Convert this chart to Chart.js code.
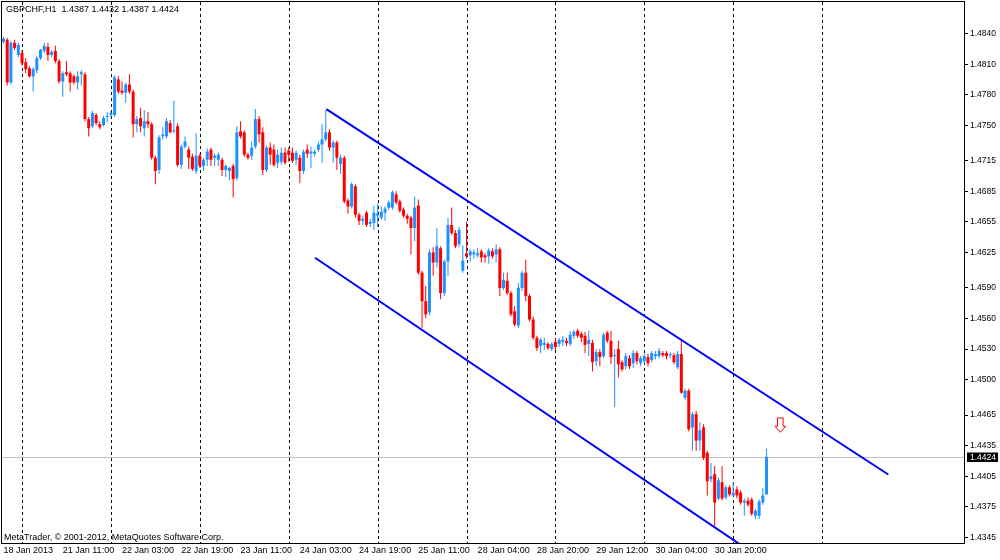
<!DOCTYPE html>
<html>
<head>
<meta charset="utf-8">
<title>GBPCHF,H1</title>
<script src="https://cdn.jsdelivr.net/npm/chart.js@4.4.0/dist/chart.umd.min.js"></script>
<style>
  html, body { margin: 0; padding: 0; background: #fff; }
  #wrap { position: relative; width: 1000px; height: 560px; }
</style>
</head>
<body>
<div id="wrap"><canvas id="chart"></canvas></div>
<script>
const symbolName = 'GBPCHF,H1';
const copyrightText = 'MetaTrader, \u00A9 2001-2012, MetaQuotes Software Corp.';

// hourly bars, index 0 = 18 Jan 19:00
const opens = [
  1.4832, 1.4834, 1.4792, 1.4831, 1.4819, 1.4821, 1.4812, 1.4806, 1.4798, 1.4804,
  1.4816, 1.4823, 1.4827, 1.4819, 1.4823, 1.4813, 1.4793, 1.4802, 1.4801, 1.4798,
  1.4792, 1.4800, 1.4800, 1.4756, 1.4749, 1.4760, 1.4751, 1.4750, 1.4758, 1.4760,
  1.4760, 1.4795, 1.4784, 1.4782, 1.4790, 1.4783, 1.4751, 1.4757, 1.4747, 1.4754,
  1.4751, 1.4718, 1.4706, 1.4739, 1.4739, 1.4752, 1.4744, 1.4749, 1.4711, 1.4729,
  1.4726, 1.4719, 1.4705, 1.4720, 1.4710, 1.4716, 1.4726, 1.4718, 1.4716, 1.4716,
  1.4706, 1.4705, 1.4710, 1.4698, 1.4744, 1.4743, 1.4721, 1.4720, 1.4729, 1.4756,
  1.4743, 1.4706, 1.4728, 1.4726, 1.4713, 1.4714, 1.4723, 1.4725, 1.4723, 1.4716,
  1.4718, 1.4705, 1.4726, 1.4722, 1.4722, 1.4726, 1.4731, 1.4736, 1.4743, 1.4728,
  1.4733, 1.4712, 1.4718, 1.4676, 1.4670, 1.4690, 1.4662, 1.4656, 1.4664, 1.4653,
  1.4654, 1.4661, 1.4659, 1.4664, 1.4669, 1.4669, 1.4682, 1.4675, 1.4667, 1.4661,
  1.4659, 1.4649, 1.4671, 1.4605, 1.4577, 1.4566, 1.4625, 1.4615, 1.4629, 1.4585,
  1.4616, 1.4652, 1.4644, 1.4633, 1.4607, 1.4624, 1.4622, 1.4623, 1.4622, 1.4626,
  1.4622, 1.4621, 1.4626, 1.4623, 1.4628, 1.4590, 1.4597, 1.4585, 1.4567, 1.4553,
  1.4590, 1.4605, 1.4582, 1.4559, 1.4541, 1.4533, 1.4534, 1.4535, 1.4530, 1.4537,
  1.4535, 1.4537, 1.4538, 1.4535, 1.4543, 1.4548, 1.4545, 1.4543, 1.4535, 1.4536,
  1.4518, 1.4527, 1.4523, 1.4546, 1.4538, 1.4523, 1.4530, 1.4517, 1.4513, 1.4521,
  1.4516, 1.4526, 1.4516, 1.4518, 1.4522, 1.4519, 1.4523, 1.4523, 1.4526, 1.4526,
  1.4524, 1.4524, 1.4512, 1.4525, 1.4482, 1.4489, 1.4453, 1.4466, 1.4440, 1.4453,
  1.4428, 1.4402, 1.4407, 1.4383, 1.4399, 1.4384, 1.4394, 1.4386, 1.4392, 1.4389,
  1.4379, 1.4381, 1.4382, 1.4366, 1.4366, 1.4379, 1.4387
];
const highs = [
  1.4837, 1.4836, 1.4833, 1.4834, 1.4831, 1.4824, 1.4816, 1.4808, 1.4807, 1.4818,
  1.4825, 1.4831, 1.4831, 1.4824, 1.4828, 1.4815, 1.4803, 1.4813, 1.4803, 1.4800,
  1.4803, 1.4804, 1.4802, 1.4758, 1.4764, 1.4762, 1.4754, 1.4759, 1.4763, 1.4764,
  1.4799, 1.4798, 1.4793, 1.4792, 1.4800, 1.4785, 1.4759, 1.4767, 1.4765, 1.4763,
  1.4753, 1.4720, 1.4740, 1.4748, 1.4757, 1.4755, 1.4774, 1.4752, 1.4731, 1.4739,
  1.4729, 1.4722, 1.4742, 1.4722, 1.4718, 1.4727, 1.4728, 1.4722, 1.4723, 1.4718,
  1.4711, 1.4709, 1.4712, 1.4749, 1.4754, 1.4745, 1.4723, 1.4734, 1.4766, 1.4759,
  1.4748, 1.4730, 1.4733, 1.4731, 1.4726, 1.4728, 1.4728, 1.4728, 1.4728, 1.4725,
  1.4721, 1.4726, 1.4731, 1.4729, 1.4726, 1.4734, 1.4751, 1.4765, 1.4746, 1.4735,
  1.4735, 1.4721, 1.4720, 1.4678, 1.4694, 1.4692, 1.4664, 1.4661, 1.4666, 1.4658,
  1.4671, 1.4673, 1.4670, 1.4670, 1.4676, 1.4686, 1.4685, 1.4677, 1.4669, 1.4663,
  1.4661, 1.4680, 1.4677, 1.4607, 1.4592, 1.4628, 1.4630, 1.4649, 1.4631, 1.4618,
  1.4659, 1.4669, 1.4647, 1.4650, 1.4632, 1.4655, 1.4628, 1.4628, 1.4629, 1.4628,
  1.4624, 1.4629, 1.4629, 1.4633, 1.4630, 1.4605, 1.4605, 1.4587, 1.4572, 1.4595,
  1.4607, 1.4618, 1.4584, 1.4562, 1.4543, 1.4541, 1.4541, 1.4537, 1.4537, 1.4541,
  1.4541, 1.4543, 1.4541, 1.4548, 1.4549, 1.4550, 1.4547, 1.4547, 1.4548, 1.4539,
  1.4530, 1.4530, 1.4546, 1.4548, 1.4548, 1.4530, 1.4538, 1.4519, 1.4526, 1.4524,
  1.4529, 1.4528, 1.4523, 1.4525, 1.4525, 1.4528, 1.4528, 1.4531, 1.4528, 1.4528,
  1.4527, 1.4526, 1.4528, 1.4540, 1.4491, 1.4491, 1.4468, 1.4469, 1.4458, 1.4456,
  1.4430, 1.4418, 1.4415, 1.4404, 1.4415, 1.4396, 1.4396, 1.4399, 1.4395, 1.4391,
  1.4383, 1.4384, 1.4384, 1.4373, 1.4382, 1.4393, 1.4432
];
const lows = [
  1.4830, 1.4789, 1.4790, 1.4824, 1.4817, 1.4809, 1.4801, 1.4797, 1.4783, 1.4801,
  1.4814, 1.4821, 1.4813, 1.4817, 1.4811, 1.4791, 1.4778, 1.4798, 1.4783, 1.4790,
  1.4785, 1.4789, 1.4754, 1.4739, 1.4747, 1.4750, 1.4746, 1.4749, 1.4753, 1.4757,
  1.4758, 1.4781, 1.4780, 1.4772, 1.4781, 1.4738, 1.4743, 1.4743, 1.4739, 1.4747,
  1.4716, 1.4692, 1.4702, 1.4736, 1.4737, 1.4742, 1.4742, 1.4709, 1.4707, 1.4727,
  1.4707, 1.4705, 1.4702, 1.4708, 1.4705, 1.4710, 1.4710, 1.4710, 1.4710, 1.4700,
  1.4699, 1.4696, 1.4679, 1.4696, 1.4737, 1.4719, 1.4716, 1.4716, 1.4727, 1.4733,
  1.4701, 1.4704, 1.4711, 1.4709, 1.4708, 1.4711, 1.4711, 1.4714, 1.4713, 1.4711,
  1.4693, 1.4702, 1.4718, 1.4708, 1.4719, 1.4724, 1.4713, 1.4734, 1.4725, 1.4713,
  1.4706, 1.4702, 1.4673, 1.4663, 1.4668, 1.4659, 1.4652, 1.4652, 1.4650, 1.4650,
  1.4647, 1.4650, 1.4657, 1.4656, 1.4667, 1.4667, 1.4672, 1.4664, 1.4659, 1.4653,
  1.4623, 1.4636, 1.4603, 1.4551, 1.4560, 1.4563, 1.4602, 1.4610, 1.4579, 1.4582,
  1.4602, 1.4642, 1.4629, 1.4630, 1.4605, 1.4619, 1.4616, 1.4619, 1.4620, 1.4615,
  1.4615, 1.4614, 1.4619, 1.4615, 1.4582, 1.4588, 1.4583, 1.4562, 1.4552, 1.4551,
  1.4587, 1.4577, 1.4557, 1.4539, 1.4528, 1.4526, 1.4529, 1.4529, 1.4528, 1.4528,
  1.4532, 1.4533, 1.4533, 1.4533, 1.4540, 1.4541, 1.4537, 1.4526, 1.4523, 1.4508,
  1.4513, 1.4513, 1.4521, 1.4536, 1.4515, 1.4473, 1.4502, 1.4508, 1.4510, 1.4510,
  1.4511, 1.4515, 1.4513, 1.4515, 1.4513, 1.4517, 1.4520, 1.4521, 1.4522, 1.4520,
  1.4521, 1.4515, 1.4510, 1.4486, 1.4480, 1.4449, 1.4430, 1.4430, 1.4430, 1.4421,
  1.4386, 1.4399, 1.4356, 1.4381, 1.4381, 1.4382, 1.4385, 1.4384, 1.4383, 1.4377,
  1.4366, 1.4375, 1.4366, 1.4363, 1.4363, 1.4377, 1.4387
];
const closes = [
  1.4835, 1.4792, 1.4831, 1.4826, 1.4829, 1.4811, 1.4805, 1.4798, 1.4805, 1.4816,
  1.4824, 1.4828, 1.4819, 1.4822, 1.4813, 1.4793, 1.4801, 1.4800, 1.4792, 1.4792,
  1.4798, 1.4802, 1.4756, 1.4747, 1.4762, 1.4752, 1.4748, 1.4757, 1.4759, 1.4762,
  1.4797, 1.4783, 1.4782, 1.4790, 1.4783, 1.4751, 1.4756, 1.4749, 1.4754, 1.4751,
  1.4718, 1.4705, 1.4738, 1.4741, 1.4754, 1.4743, 1.4745, 1.4711, 1.4729, 1.4734,
  1.4718, 1.4707, 1.4720, 1.4710, 1.4716, 1.4724, 1.4716, 1.4720, 1.4721, 1.4706,
  1.4710, 1.4708, 1.4697, 1.4743, 1.4739, 1.4721, 1.4718, 1.4728, 1.4756, 1.4741,
  1.4706, 1.4728, 1.4721, 1.4711, 1.4721, 1.4723, 1.4713, 1.4721, 1.4715, 1.4723,
  1.4705, 1.4724, 1.4722, 1.4724, 1.4724, 1.4731, 1.4736, 1.4743, 1.4728, 1.4733,
  1.4718, 1.4718, 1.4675, 1.4670, 1.4692, 1.4662, 1.4656, 1.4658, 1.4652, 1.4655,
  1.4664, 1.4663, 1.4665, 1.4668, 1.4674, 1.4684, 1.4674, 1.4666, 1.4661, 1.4658,
  1.4649, 1.4669, 1.4605, 1.4577, 1.4564, 1.4625, 1.4615, 1.4631, 1.4585, 1.4616,
  1.4652, 1.4644, 1.4631, 1.4647, 1.4617, 1.4621, 1.4626, 1.4625, 1.4624, 1.4620,
  1.4620, 1.4627, 1.4621, 1.4628, 1.4590, 1.4598, 1.4585, 1.4564, 1.4554, 1.4590,
  1.4605, 1.4582, 1.4559, 1.4541, 1.4531, 1.4539, 1.4536, 1.4531, 1.4535, 1.4532,
  1.4539, 1.4539, 1.4536, 1.4544, 1.4547, 1.4543, 1.4541, 1.4534, 1.4539, 1.4517,
  1.4527, 1.4522, 1.4544, 1.4538, 1.4522, 1.4524, 1.4515, 1.4510, 1.4523, 1.4513,
  1.4526, 1.4518, 1.4521, 1.4523, 1.4516, 1.4526, 1.4525, 1.4528, 1.4524, 1.4523,
  1.4525, 1.4517, 1.4525, 1.4487, 1.4489, 1.4451, 1.4466, 1.4440, 1.4450, 1.4423,
  1.4400, 1.4405, 1.4379, 1.4401, 1.4383, 1.4394, 1.4387, 1.4389, 1.4386, 1.4379,
  1.4381, 1.4377, 1.4368, 1.4371, 1.4380, 1.4386, 1.4424
];

const timeTickIndex = [0, 16, 32, 48, 64, 80, 96, 112, 128, 144, 160, 176, 192];
const timeTickLabels = [
  '18 Jan 2013', '21 Jan 11:00', '22 Jan 03:00', '22 Jan 19:00', '23 Jan 11:00',
  '24 Jan 03:00', '24 Jan 19:00', '25 Jan 11:00', '28 Jan 04:00', '28 Jan 20:00',
  '29 Jan 12:00', '30 Jan 04:00', '30 Jan 20:00'
];
const daySeparatorIndex = [5, 29, 53, 77, 101, 125, 149, 173, 197, 221];
const priceTicks = [
  1.4840, 1.4810, 1.4780, 1.4750, 1.4715, 1.4685, 1.4655, 1.4625, 1.4590,
  1.4560, 1.4530, 1.4500, 1.4465, 1.4435, 1.4405, 1.4375, 1.4345
];

// trend channel and sell arrow, in bar index / price
const upperChannel = [{ x: 87.15, y: 1.47658 }, { x: 238.88, y: 1.44066 }];
const lowerChannel = [{ x: 84.1, y: 1.46197 }, { x: 205, y: 1.43228 }];
const sellArrow = { x: 209.72, y: 1.44552 };

const barRange = [-0.405, 259.31];
const priceRange = [1.43393, 1.48711];

const bullColor = '#1E90FF';
const bearColor = '#FF0000';
const isBull = closes.map((c, i) => c >= opens[i]);
const lastClose = closes[closes.length - 1];

const chartFont = '"Liberation Sans", Arial, sans-serif';
Chart.defaults.font.family = chartFont;
Chart.defaults.color = '#000';

const chartDecor = {
    id: 'chartDecor',
    beforeDatasetsDraw(chart) {
        const { ctx, chartArea: { left, right, top, bottom }, scales: { x, y } } = chart;
        ctx.save();
        // period separators
        ctx.strokeStyle = '#000';
        ctx.lineWidth = 1;
        ctx.setLineDash([3, 3]);
        daySeparatorIndex.forEach(i => {
            const px = Math.round(x.getPixelForValue(i)) + 0.5;
            ctx.beginPath();
            ctx.moveTo(px, top);
            ctx.lineTo(px, bottom);
            ctx.stroke();
        });
        // bid line
        ctx.setLineDash([]);
        ctx.strokeStyle = '#C0C0C0';
        const by = Math.round(y.getPixelForValue(lastClose)) + 0.5;
        ctx.beginPath();
        ctx.moveTo(left, by);
        ctx.lineTo(right, by);
        ctx.stroke();
        ctx.restore();
    },
    afterDraw(chart) {
        const { ctx, chartArea: { left, right, top, bottom }, scales: { x, y } } = chart;
        ctx.save();
        // frame
        ctx.strokeStyle = '#000';
        ctx.lineWidth = 1;
        ctx.strokeRect(Math.round(left) - 0.5, Math.round(top) - 0.5,
            Math.round(right - left) + 1, Math.round(bottom - top) + 1);

        // sell arrow
        const ax = x.getPixelForValue(sellArrow.x);
        const ay = y.getPixelForValue(sellArrow.y);
        ctx.beginPath();
        ctx.moveTo(ax - 2.8, ay - 7.2);
        ctx.lineTo(ax + 2.8, ay - 7.2);
        ctx.lineTo(ax + 2.8, ay + 1.2);
        ctx.lineTo(ax + 5.3, ay + 1.2);
        ctx.lineTo(ax, ay + 7.2);
        ctx.lineTo(ax - 5.3, ay + 1.2);
        ctx.lineTo(ax - 2.8, ay + 1.2);
        ctx.closePath();
        ctx.fillStyle = '#fff';
        ctx.fill();
        ctx.strokeStyle = bearColor;
        ctx.stroke();

        // header and copyright
        ctx.fillStyle = '#000';
        ctx.font = '9px ' + chartFont;
        ctx.textAlign = 'left';
        ctx.textBaseline = 'alphabetic';
        const last = opens.length - 1;
        const header = symbolName + '  ' + [opens[last], highs[last], lows[last], closes[last]]
            .map(v => v.toFixed(4)).join(' ');
        ctx.fillText(header, left + 4, top + 9.5);
        ctx.fillText(copyrightText, left + 2, bottom - 3);

        // bid price box on the axis
        const by = Math.round(y.getPixelForValue(lastClose));
        ctx.fillStyle = '#000';
        ctx.fillRect(right + 3, by - 4.5, 31, 9.5);
        ctx.fillStyle = '#fff';
        ctx.font = '8.5px ' + chartFont;
        ctx.textBaseline = 'middle';
        ctx.fillText(lastClose.toFixed(4), right + 6, by + 0.5);
        ctx.restore();
    }
};

new Chart(document.getElementById('chart'), {
    type: 'bar',
    data: {
        datasets: [{
            label: 'Channel high',
            type: 'line',
            data: upperChannel,
            borderColor: '#0000FF',
            borderWidth: 2,
            pointRadius: 0,
            clip: 0,
            order: 0
        }, {
            label: 'Channel low',
            type: 'line',
            data: lowerChannel,
            borderColor: '#0000FF',
            borderWidth: 2,
            pointRadius: 0,
            clip: 0,
            order: 0
        }, {
            label: 'Body',
            data: opens.map((o, i) => ({ x: i, y: [o, closes[i]] })),
            backgroundColor: isBull.map(b => b ? bullColor : bearColor),
            borderWidth: 0,
            grouped: false,
            barPercentage: 1,
            categoryPercentage: 1,
            maxBarThickness: 3,
            minBarLength: 1,
            inflateAmount: 0,
            order: 1
        }, {
            label: 'Wick',
            data: lows.map((l, i) => ({ x: i, y: [l, highs[i]] })),
            backgroundColor: isBull.map(b => b ? bullColor : bearColor),
            borderWidth: 0,
            grouped: false,
            barPercentage: 0.27,
            categoryPercentage: 1,
            maxBarThickness: 1,
            inflateAmount: 0,
            order: 2
        }]
    },
    options: {
        responsive: true,
        maintainAspectRatio: false,
        animation: false,
        events: [],
        devicePixelRatio: 1,
        layout: { padding: { left: 2, top: 2, right: 0, bottom: 0 } },
        plugins: {
            legend: { display: false },
            tooltip: { enabled: false },
            title: { display: false }
        },
        scales: {
            x: {
                type: 'linear',
                min: barRange[0],
                max: barRange[1],
                offset: false,
                grid: { display: false, drawTicks: false },
                border: { display: false },
                afterBuildTicks: (scale) => {
                    scale.ticks = timeTickIndex.map(v => ({ value: v }));
                },
                ticks: {
                    autoSkip: false,
                    maxRotation: 0,
                    minRotation: 0,
                    align: 'start',
                    padding: 2,
                    font: { size: 9 },
                    callback: (value, index) => timeTickLabels[index]
                },
                afterFit: (scale) => {
                    scale.height = 17;
                    scale.paddingLeft = 0;
                    scale.paddingRight = 0;
                }
            },
            y: {
                position: 'right',
                min: priceRange[0],
                max: priceRange[1],
                grid: { drawOnChartArea: false, drawTicks: true, tickLength: 4, color: '#000' },
                border: { display: false },
                afterBuildTicks: (scale) => {
                    scale.ticks = priceTicks.map(v => ({ value: v }));
                },
                ticks: {
                    autoSkip: false,
                    padding: 2,
                    font: { size: 8.5 },
                    callback: (value) => value.toFixed(4)
                },
                afterFit: (scale) => {
                    scale.width = 36;
                    scale.paddingTop = 0;
                    scale.paddingBottom = 0;
                }
            }
        }
    },
    plugins: [chartDecor]
});
</script>
</body>
</html>
